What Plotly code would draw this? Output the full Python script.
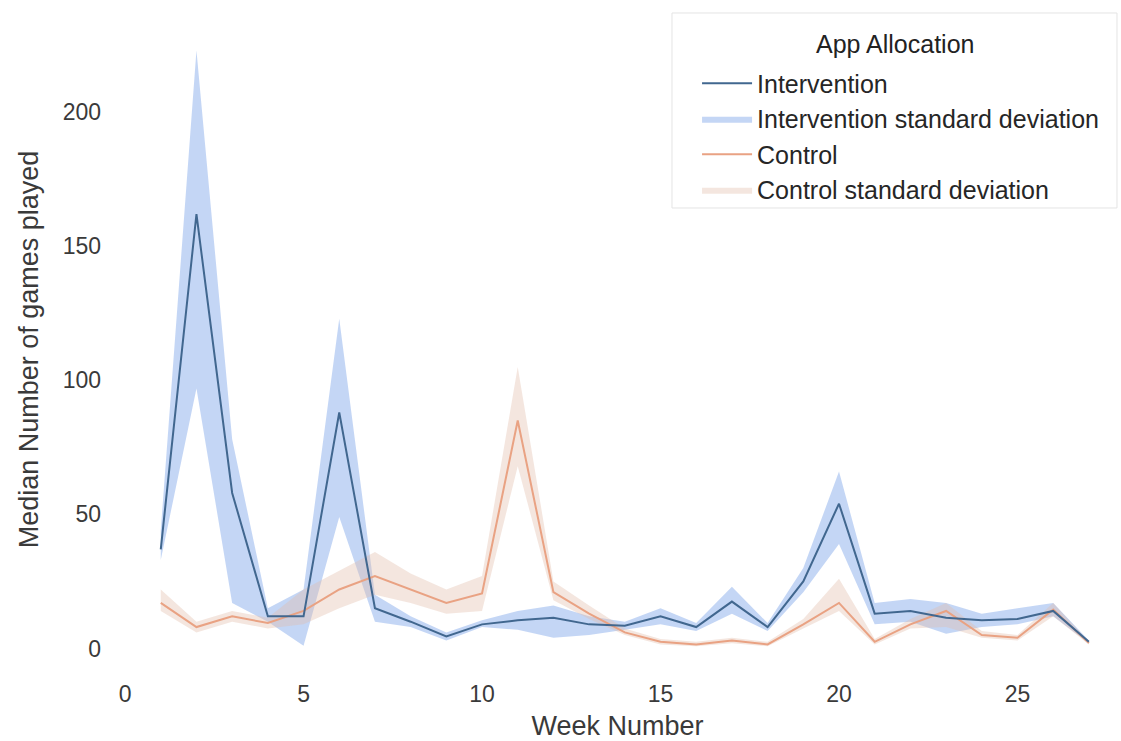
import plotly.graph_objects as go

# Weekly medians and standard-deviation envelopes per app allocation
weeks = list(range(1, 28))

intervention_median = [37, 162, 58, 12, 12, 88, 15, 10, 4.5, 9, 10.5, 11.5, 9, 8.5,
                       12, 8, 17.5, 8, 25, 54, 13, 14, 11.5, 10.5, 11, 14, 2.5]
intervention_low = [33, 97, 17, 10, 1, 49, 10, 8, 3, 8, 7, 4, 5, 7,
                    9, 6.5, 13, 6.5, 21, 39, 9, 10, 5.5, 8, 9, 12, 2]
intervention_high = [44, 223, 78, 15, 22, 123, 20, 12, 6, 10.5, 14, 16, 12, 10,
                     15, 9.5, 23, 9.5, 30, 66, 17, 18.5, 17, 13, 15, 17, 3]

control_median = [17, 8, 12, 9.5, 14, 22, 27, 22, 17, 20.5, 85, 21, 13, 6,
                  2.5, 1.5, 3, 1.5, 9, 17, 2.5, 9, 14, 5, 4, 14.5, 2]
control_low = [14, 6, 10, 7.5, 9, 15, 20, 17, 13, 14, 68, 18, 11, 5,
               1.5, 0.8, 2, 0.8, 7.5, 14, 1.5, 7.5, 8, 4, 3, 12, 1.5]
control_high = [22, 10, 14, 11.5, 22, 29, 36, 28, 22, 27, 105, 25, 16, 7.5,
                3.5, 2.5, 4, 2.5, 11, 26, 3.5, 11, 17, 6.5, 5, 17, 2.5]

x_ticks = [0, 5, 10, 15, 20, 25]
y_ticks = [0, 50, 100, 150, 200]

INT_LINE = "#41678f"
INT_FILL = "rgba(125,163,232,0.45)"
CTL_LINE = "#e9a283"
CTL_FILL = "rgba(225,188,172,0.38)"

FONT = "Liberation Sans, Arial, sans-serif"
TEXT = "#3a3a3a"


def band(x, lo, hi, color, name, group):
    return go.Scatter(
        x=list(x) + list(x)[::-1],
        y=list(hi) + list(lo)[::-1],
        fill="toself",
        fillcolor=color,
        line=dict(width=0, color=color),
        mode="lines",
        name=name,
        legendgroup=group,
        hoverinfo="skip",
    )


fig = go.Figure()
fig.add_trace(band(weeks, intervention_low, intervention_high, INT_FILL,
                   "Intervention standard deviation", "g2"))
fig.add_trace(band(weeks, control_low, control_high, CTL_FILL,
                   "Control standard deviation", "g4"))
fig.add_trace(go.Scatter(x=weeks, y=control_median, mode="lines",
                         line=dict(color=CTL_LINE, width=2),
                         name="Control", legendgroup="g3"))
fig.add_trace(go.Scatter(x=weeks, y=intervention_median, mode="lines",
                         line=dict(color=INT_LINE, width=2),
                         name="Intervention", legendgroup="g1"))

# legend order: Intervention, its deviation, Control, its deviation
for tr, rank in zip(fig.data, [2, 4, 3, 1]):
    tr.legendrank = rank

# legend frame and heading
fig.add_shape(type="rect", xref="paper", yref="paper",
              x0=0.5541, x1=0.9960, y0=0.7154, y1=1.0122,
              fillcolor="rgba(255,255,255,0.9)",
              line=dict(color="#e4e4e4", width=1), layer="below")
fig.add_annotation(text="App Allocation", xref="paper", yref="paper",
                   x=0.7756, y=0.965, xanchor="center", yanchor="middle",
                   showarrow=False, font=dict(size=25, color="#222222"))

fig.update_layout(
    width=1121,
    height=741,
    margin=dict(l=114, r=0, t=21, b=63),
    paper_bgcolor="white",
    plot_bgcolor="white",
    font=dict(family=FONT, color=TEXT),
    showlegend=True,
    legend=dict(
        font=dict(size=25, color="#262626"),
        x=0.579, xanchor="left",
        y=0.940, yanchor="top",
        bgcolor="rgba(0,0,0,0)",
        borderwidth=0,
        itemwidth=50,
        tracegroupgap=0,
        traceorder="normal",
    ),
    xaxis=dict(
        range=[-0.31, 27.9],
        tickvals=x_ticks,
        ticktext=[str(v) for v in x_ticks],
        showgrid=False,
        zeroline=False,
        showline=False,
        ticks="",
        tickfont=dict(size=23, color=TEXT),
        title=dict(text="Week Number", font=dict(size=27, color=TEXT),
                   standoff=14),
    ),
    yaxis=dict(
        range=[-11, 234],
        tickvals=y_ticks,
        ticktext=[str(v) for v in y_ticks],
        showgrid=False,
        zeroline=False,
        showline=False,
        ticks="",
        ticklabelstandoff=12,
        tickfont=dict(size=23, color=TEXT),
        title=dict(text="Median Number of games played",
                   font=dict(size=27, color=TEXT), standoff=16),
    ),
)

fig.write_html("out.html")
